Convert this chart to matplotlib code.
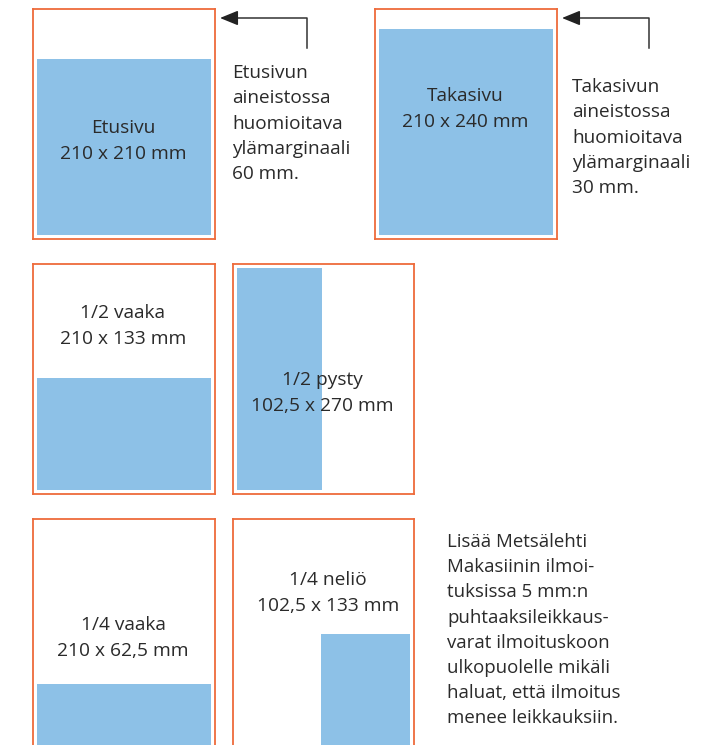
import matplotlib.pyplot as plt
from matplotlib.patches import Rectangle

# page is 210 x 270 mm, frame shows 5 mm bleed around it
page_w, page_h = 210, 270
bleed = 5

# ad sizes as drawn (mm): width, height, where it sits on the page
names = ['Etusivu', 'Takasivu', '1/2 vaaka', '1/2 pysty', '1/4 vaaka', '1/4 neliö']
sizes = ['210 x 210 mm', '210 x 240 mm', '210 x 133 mm', '102,5 x 270 mm',
         '210 x 62,5 mm', '102,5 x 133 mm']
ad_w = [210, 210, 210, 103, 210, 108]
ad_h = [214, 251, 136, 270, 74, 135]
align = ['left', 'left', 'left', 'left', 'left', 'right']
valign = ['bottom', 'bottom', 'bottom', 'top', 'bottom', 'bottom']

# panel boxes in pixels: left, top, width, height
panels = [(33, 9, 182, 230), (375, 9, 182, 230),
          (33, 264, 182, 230), (233, 264, 181, 230),
          (33, 519, 182, 230), (233, 519, 181, 230)]
label_pos = [(123, 128), (465, 96), (123, 313), (322, 380), (123, 625), (328, 580)]

notes = [['Etusivun', 'aineistossa', 'huomioitava', 'ylämarginaali', '60 mm.'],
         ['Takasivun', 'aineistossa', 'huomioitava', 'ylämarginaali', '30 mm.']]
note_x = [232, 572]
note_y0 = [73, 87]

bleed_text = ['Lisää Metsälehti', 'Makasiinin ilmoi-', 'tuksissa 5 mm:n',
              'puhtaaksileikkaus-', 'varat ilmoituskoon', 'ulkopuolelle mikäli',
              'haluat, että ilmoitus', 'menee leikkauksiin.']

orange = '#EE6B3B'
blue = '#8DC1E7'
ink = '#2A2A2A'
W, H = 710, 745

plt.rcParams['font.family'] = ['Open Sans', 'DejaVu Sans']
fig = plt.figure(figsize=(W / 100, H / 100), dpi=100)

for i, (l, t, w, h) in enumerate(panels):
    ax = fig.add_axes([l / W, 1 - (t + h) / H, w / W, h / H])
    ax.set_xlim(-bleed, page_w + bleed)
    ax.set_ylim(-bleed, page_h + bleed)
    ax.set_xticks([])
    ax.set_yticks([])
    for s in ax.spines.values():
        s.set_color(orange)
        s.set_linewidth(1.3)
    x0 = 0 if align[i] == 'left' else page_w - ad_w[i]
    y0 = 0 if valign[i] == 'bottom' else page_h - ad_h[i]
    ax.add_patch(Rectangle((x0, y0), ad_w[i], ad_h[i], color=blue, lw=0))

# overlay in pixel coords for texts and arrows
ov = fig.add_axes([0, 0, 1, 1], zorder=5)
ov.set_xlim(0, W)
ov.set_ylim(H, 0)
ov.axis('off')
ov.patch.set_alpha(0)

for i in range(len(names)):
    cx, cy = label_pos[i]
    ov.text(cx, cy, names[i], ha='center', va='center', fontsize=13.8, color=ink)
    ov.text(cx, cy + 26, sizes[i], ha='center', va='center', fontsize=13.8, color=ink)

for k in range(2):
    for j, line in enumerate(notes[k]):
        ov.text(note_x[k], note_y0[k] + j * 25.3, line, ha='left', va='center',
                fontsize=13.7, color=ink)

# arrows pointing at top margin
for xr, tip in [(307, 220), (649, 562)]:
    ov.plot([xr, xr, tip + 12], [48, 18, 18], color='#333333', lw=1.1)
    ov.annotate('', xy=(tip, 18), xytext=(tip + 16, 18),
                arrowprops=dict(arrowstyle='-|>,head_length=1.1,head_width=0.45',
                                color='#222222', lw=1.1, shrinkA=0, shrinkB=0))

for j, line in enumerate(bleed_text):
    ov.text(447, 542 + j * 25.2, line, ha='left', va='center', fontsize=13.4,
            color=ink)

fig.savefig('out.png', dpi=100)
